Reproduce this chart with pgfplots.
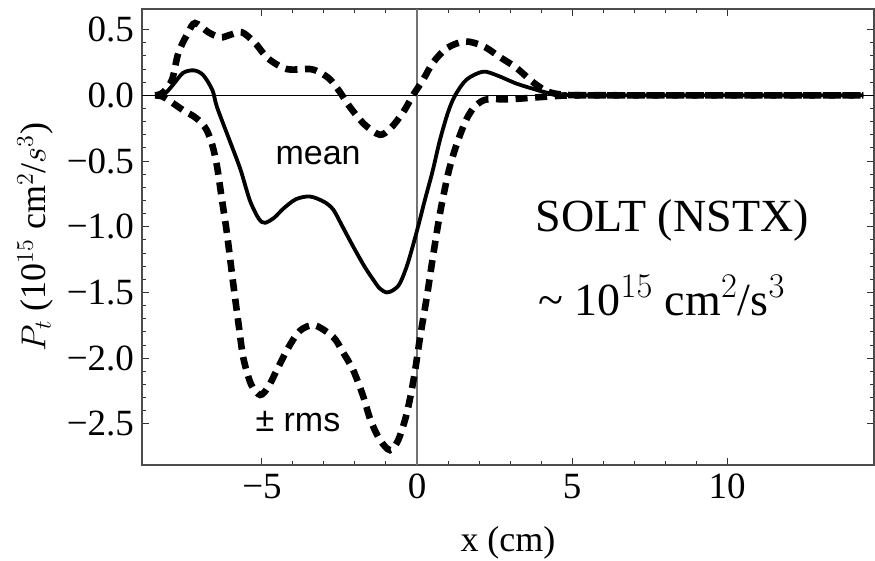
\documentclass[border=0pt]{standalone}
\usepackage{pgfplots}
\pgfplotsset{compat=1.18}
\usepackage{fontspec}
\setmainfont{Liberation Serif}
\newfontfamily\sansf{Liberation Sans}
\begin{document}
\begin{tikzpicture}
\useasboundingbox (-71pt,-48pt) rectangle (366.5pt,232.5pt);
\begin{axis}[
  at={(0,0)}, anchor=south west,
  scale only axis, width=366pt, height=228pt,
  xmin=-8.87, xmax=14.74, ymin=-2.813, ymax=0.657,
  axis line style={draw=black!70, line width=0.6pt},
  xtick={-5,0,5,10}, xticklabels={−5,0,5,10},
  ytick={-2.5,-2,-1.5,-1,-0.5,0,0.5},
  yticklabels={−2.5,−2.0,−1.5,−1.0,−0.5,0.0,0.5},
  minor x tick num=4, minor y tick num=4,
  tick align=inside,
  major tick length=3.5pt, minor tick length=2pt,
  tick style={black!80, line width=0.5pt},
  ticklabel style={font=\fontsize{18.5}{21}\selectfont},
  xticklabel style={yshift=-1pt},
  yticklabel style={xshift=-0.5pt},
  xlabel={x (cm)},
  ylabel={$P_t$ (10$^{15}$ cm$^2$/$s^3$)},
  label style={font=\fontsize{18}{21}\selectfont},
  xlabel style={yshift=-7pt},
  ylabel style={yshift=0pt},
  clip=true,
]
\addplot[black, line width=0.5pt] coordinates {(-8.87,0) (14.74,0)};
\addplot[black!55, line width=0.6pt] coordinates {(0,-2.813) (0,0.657)};
% mean + rms
\addplot[black, line width=3.3pt, line cap=butt, dash pattern=on 6pt off 3.8pt, smooth, tension=0.5] coordinates {
(-8.45,0) (-8.2,0.02) (-7.9,0.12) (-7.7,0.32) (-7.4,0.47) (-7.16,0.55) (-6.73,0.48) (-6.35,0.44) (-6.03,0.46) (-5.65,0.48) (-5.23,0.40) (-4.8,0.28) (-4.2,0.2) (-3.45,0.2) (-3.1,0.17) (-2.8,0.12) (-2.5,0.03) (-2.16,-0.09) (-1.7,-0.22) (-1.2,-0.3) (-0.85,-0.25) (-0.45,-0.13) (-0.13,0) (0.2,0.12) (0.52,0.25) (0.97,0.36) (1.55,0.41) (2.13,0.375) (2.68,0.29) (3.2,0.21) (3.74,0.10) (4.2,0.03) (4.7,0.005) (5.5,0) (7,0) (9,0) (11,0) (13,0) (14.4,0)};
% mean - rms
\addplot[black, line width=3.3pt, line cap=butt, dash pattern=on 6pt off 3.8pt, smooth, tension=0.5] coordinates {
(-8.45,0) (-8.2,-0.01) (-7.87,-0.06) (-7.5,-0.12) (-7.2,-0.16) (-6.95,-0.21) (-6.77,-0.27) (-6.6,-0.38) (-6.45,-0.54) (-6.3,-0.78) (-6.13,-1.05) (-5.94,-1.41) (-5.75,-1.75) (-5.6,-2.0) (-5.35,-2.2) (-5.06,-2.28) (-4.8,-2.22) (-4.52,-2.09) (-4.15,-1.92) (-3.77,-1.79) (-3.3,-1.75) (-2.7,-1.84) (-2.4,-1.95) (-2.06,-2.09) (-1.75,-2.28) (-1.5,-2.47) (-1.2,-2.62) (-0.87,-2.70) (-0.6,-2.62) (-0.33,-2.42) (-0.1,-2.15) (0.1,-1.84) (0.32,-1.53) (0.5,-1.25) (0.74,-0.9) (1.0,-0.6) (1.2,-0.43) (1.39,-0.3) (1.6,-0.18) (1.81,-0.1) (2.05,-0.05) (2.3,-0.03) (3.0,-0.03) (3.6,-0.02) (4.2,-0.01) (5,0) (7,0) (9,0) (11,0) (13,0) (14.4,0)};
% mean
\addplot[black, line width=1.9pt, smooth, tension=0.5] coordinates {
(-8.45,0) (-8.15,0.01) (-7.87,0.08) (-7.55,0.17) (-7.2,0.19) (-6.9,0.155) (-6.6,0.04) (-6.45,-0.09) (-6.05,-0.34) (-5.7,-0.56) (-5.39,-0.8) (-5.1,-0.94) (-4.9,-0.97) (-4.6,-0.93) (-4.3,-0.86) (-3.9,-0.79) (-3.45,-0.77) (-3.0,-0.81) (-2.7,-0.87) (-2.4,-1.0) (-2.06,-1.15) (-1.7,-1.3) (-1.42,-1.40) (-1.2,-1.47) (-0.97,-1.5) (-0.75,-1.48) (-0.55,-1.43) (-0.3,-1.28) (0,-1.03) (0.25,-0.8) (0.5,-0.58) (0.74,-0.34) (1.0,-0.13) (1.23,0) (1.6,0.12) (2.13,0.18) (2.6,0.15) (3.2,0.09) (3.74,0.05) (4.2,0.02) (4.8,0.004) (5.5,0) (7,0) (9,0) (11,0) (13,0) (14.4,0)};
\node[anchor=base, font=\sansf\fontsize{17}{20}\selectfont] at (axis cs:-3.19,-0.53) {mean};
\node[anchor=base, font=\sansf\fontsize{17}{20}\selectfont] at (axis cs:-3.84,-2.56) {± rms};
\node[anchor=base, font=\fontsize{23}{27}\selectfont] at (axis cs:8.23,-1.04) {SOLT (NSTX)};
\node[anchor=base, font=\fontsize{23}{27}\selectfont] at (axis cs:7.9,-1.674) {\textasciitilde\ 10$^{15}$ cm$^2$/s$^3$};
\end{axis}
\end{tikzpicture}
\end{document}
